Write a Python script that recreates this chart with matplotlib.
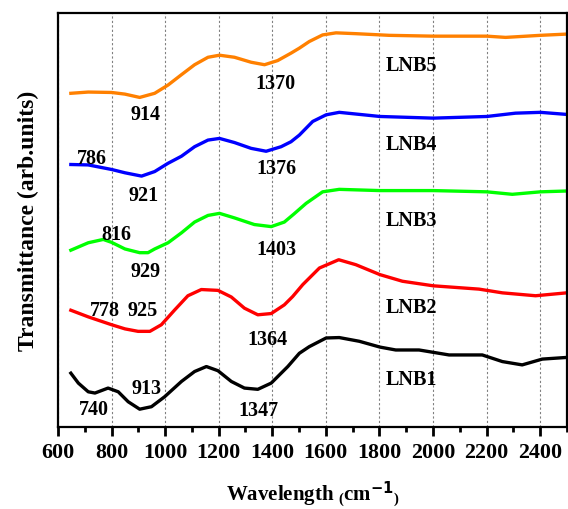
import numpy as np
import matplotlib.pyplot as plt
from matplotlib.ticker import MultipleLocator

plt.rcParams['font.family'] = ['Liberation Serif', 'DejaVu Serif']
plt.rcParams['font.weight'] = 'bold'
plt.rcParams['mathtext.fontset'] = 'custom'
plt.rcParams['mathtext.rm'] = 'Liberation Serif:bold'
plt.rcParams['mathtext.default'] = 'rm'

# spectra (wavenumber, transmittance in arb. units)
x_lnb5 = [648, 713, 800, 850, 905, 961, 1011, 1061, 1110, 1160, 1203, 1259, 1321, 1371,
          1420, 1470, 1501, 1538, 1588, 1638, 1712, 1836, 2001, 2201, 2271, 2401, 2499]
y_lnb5 = [80.6, 80.9, 80.8, 80.4, 79.6, 80.6, 82.6, 85.1, 87.5, 89.3, 89.8, 89.3, 88.1, 87.5,
          88.5, 90.3, 91.5, 93.1, 94.7, 95.2, 95.0, 94.6, 94.4, 94.4, 94.1, 94.6, 94.9]

x_lnb4 = [648, 713, 800, 850, 912, 961, 1011, 1061, 1110, 1160, 1203, 1259, 1321, 1377,
          1433, 1470, 1501, 1551, 1601, 1650, 1802, 2001, 2201, 2308, 2401, 2499]
y_lnb4 = [63.4, 63.3, 62.2, 61.4, 60.6, 61.7, 63.7, 65.4, 67.7, 69.3, 69.7, 68.7, 67.3, 66.6,
          67.7, 68.9, 70.5, 73.8, 75.4, 76.0, 75.0, 74.6, 75.0, 75.8, 76.0, 75.5]

x_lnb3 = [648, 713, 769, 800, 850, 905, 936, 961, 1011, 1061, 1110, 1160, 1203, 1259, 1333,
          1396, 1445, 1480, 1526, 1588, 1650, 1802, 2001, 2201, 2296, 2401, 2499]
y_lnb3 = [42.7, 44.5, 45.3, 44.6, 43.0, 42.1, 42.1, 43.0, 44.5, 46.9, 49.5, 51.1, 51.6, 50.5, 48.9,
          48.4, 49.5, 51.4, 54.0, 56.8, 57.4, 57.1, 57.1, 56.8, 56.2, 56.8, 57.0]

x_lnb2 = [648, 713, 800, 850, 899, 943, 986, 1036, 1085, 1135, 1197, 1247, 1296, 1346, 1396,
          1445, 1476, 1514, 1576, 1648, 1712, 1802, 1886, 2001, 2172, 2259, 2383, 2499]
y_lnb2 = [28.2, 26.6, 24.7, 23.7, 23.1, 23.1, 24.7, 28.3, 31.7, 33.2, 33.0, 31.4, 28.7, 27.1, 27.4,
          29.5, 31.5, 34.4, 38.4, 40.4, 39.2, 36.8, 35.2, 34.1, 33.3, 32.4, 31.7, 32.4]

x_lnb1 = [648, 676, 713, 738, 787, 825, 862, 905, 949, 998, 1061, 1110, 1154, 1197, 1247, 1296,
          1346, 1396, 1458, 1501, 1538, 1601, 1650, 1725, 1802, 1861, 1948, 2060, 2184, 2259,
          2333, 2408, 2499]
y_lnb1 = [13.0, 10.6, 8.5, 8.2, 9.4, 8.5, 6.1, 4.3, 4.9, 7.3, 11.0, 13.4, 14.6, 13.6, 11.0, 9.4,
          9.1, 10.6, 14.6, 17.8, 19.4, 21.5, 21.6, 20.7, 19.3, 18.6, 18.6, 17.4, 17.4, 15.8,
          15.0, 16.4, 16.8]

# peak labels (text, x, y)
peak_labels = [('914', 926, 75.6), ('1370', 1412, 83.1),
               ('786', 725, 64.9), ('921', 921, 56.0), ('1376', 1414, 62.5),
               ('816', 819, 46.5), ('929', 928, 37.6), ('1403', 1414, 43.0),
               ('778', 775, 28.2), ('925', 917, 28.2), ('1364', 1383, 21.2),
               ('740', 735, 4.3), ('913', 930, 9.4), ('1347', 1349, 4.1)]
names = ['LNB5', 'LNB4', 'LNB3', 'LNB2', 'LNB1']
name_y = [87.5, 68.4, 50.1, 29.1, 11.5]

fig = plt.figure(figsize=(5.68, 5.10), dpi=100)
ax = fig.add_axes([0.1021, 0.1608, 0.896, 0.8118])

ax.plot(x_lnb5, y_lnb5, color='#FF8000', lw=2.4)
ax.plot(x_lnb4, y_lnb4, color='#0000FF', lw=2.4)
ax.plot(x_lnb3, y_lnb3, color='#00FF00', lw=2.4)
ax.plot(x_lnb2, y_lnb2, color='#FF0000', lw=2.4)
ax.plot(x_lnb1, y_lnb1, color='black', lw=2.4)

for txt, xx, yy in peak_labels:
    ax.text(xx, yy, txt, fontsize=14.5, fontweight='bold', ha='center', va='center')
for n, yy in zip(names, name_y):
    ax.text(1920, yy, n, fontsize=14.5, fontweight='bold', ha='center', va='center')

ax.set_xlim(600, 2500)
ax.set_ylim(0, 100)
ax.xaxis.set_major_locator(MultipleLocator(200))
ax.xaxis.set_minor_locator(MultipleLocator(100))
ax.set_yticks([])
ax.tick_params(axis='x', which='major', direction='out', length=6.5, width=2,
               labelsize=15.8, pad=4)
ax.tick_params(axis='x', which='minor', direction='out', length=3.3, width=2)
for lab in ax.get_xticklabels():
    lab.set_fontweight('bold')
ax.grid(axis='x', which='major', color='#808080', ls=(0, (2, 2)), lw=0.8)
for s in ax.spines.values():
    s.set_linewidth(1.6)

ax.set_ylabel('Transmittance (arb.units)', fontsize=17, fontweight='bold', labelpad=14)
ax.set_xlabel(r'Wavelength $\mathregular{_{(}}$cm$^{\mathbf{-1}}$$\mathregular{_{)}}$',
              fontsize=15, fontweight='bold', labelpad=12)

fig.savefig('out.png', dpi=100)
